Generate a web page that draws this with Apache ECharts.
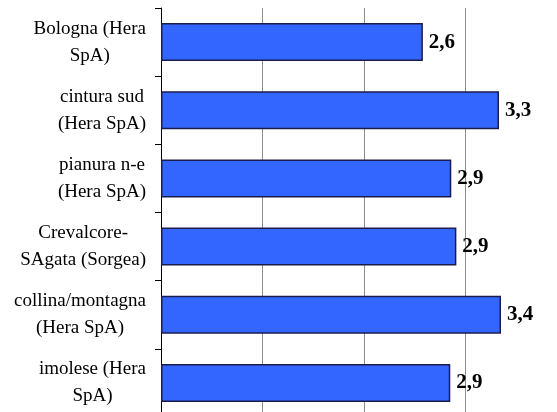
<!DOCTYPE html>
<html>
<head>
<meta charset="utf-8">
<script src="https://cdn.jsdelivr.net/npm/echarts@6/dist/echarts.min.js"></script>
<style>
  html, body { margin: 0; padding: 0; background: #fff; }
  .bar { width: 557px; height: 412px; }
</style>
</head>
<body>
<div class="bar"></div>
<script>
// categorie (righe del grafico, dall'alto)
var categories = [
  "Bologna (Hera\nSpA)",
  "cintura sud\n(Hera SpA)",
  "pianura n-e\n(Hera SpA)",
  "Crevalcore-\nSAgata (Sorgea)",
  "collina/montagna\n(Hera SpA)",
  "imolese (Hera\nSpA)"
];
// valori
var values = [2.58, 3.33, 2.86, 2.91, 3.35, 2.85];
// tacche asse valori (griglia)
var xTicks = [0, 1, 2, 3, 4];

(function () {
  var myChart = echarts.init(document.querySelector(".bar"));
  var serif = "Liberation Serif";

  var option = {
    animation: false,
    grid: {
      left: 161,
      top: 8,
      width: 406,
      height: 409,
      containLabel: false,
      // la griglia esce dal bordo destro come nell'originale
      outerBoundsMode: "none"
    },
    xAxis: {
      type: "value",
      min: xTicks[0],
      max: xTicks[xTicks.length - 1],
      interval: 1,
      axisLine: { show: false },
      axisTick: { show: false },
      axisLabel: { show: false },
      splitLine: {
        show: true,
        showMinLine: false,
        showMaxLine: false,
        lineStyle: { color: "#8c8c8c", width: 1 }
      }
    },
    yAxis: {
      type: "category",
      data: categories,
      inverse: true,
      axisLine: { show: true, lineStyle: { color: "#000", width: 1 } },
      axisTick: { show: true, inside: false, length: 6, lineStyle: { color: "#000" } },
      axisLabel: {
        margin: 15,
        // ogni riga centrata nel blocco, blocco allineato a destra
        formatter: function (v) {
          return v.split("\n").map(function (s) { return "{c|" + s + "}"; }).join("\n");
        },
        rich: {
          c: {
            align: "center",
            fontFamily: serif,
            fontSize: 19,
            color: "#000",
            lineHeight: 27
          }
        }
      },
      splitLine: { show: false }
    },
    series: [
      {
        type: "bar",
        data: values,
        barWidth: 38,
        itemStyle: {
          color: "#3366ff",
          borderColor: "#1c1c4c",
          borderWidth: 1.5
        },
        label: {
          show: true,
          position: "right",
          distance: 6,
          fontFamily: serif,
          fontWeight: "bold",
          fontSize: 21,
          color: "#000",
          formatter: function (p) {
            return p.value.toFixed(1).replace(".", ",");
          }
        }
      }
    ]
  };

  myChart.setOption(option);
  window.addEventListener("resize", function () {
    myChart.resize();
  });
})();
</script>
</body>
</html>
